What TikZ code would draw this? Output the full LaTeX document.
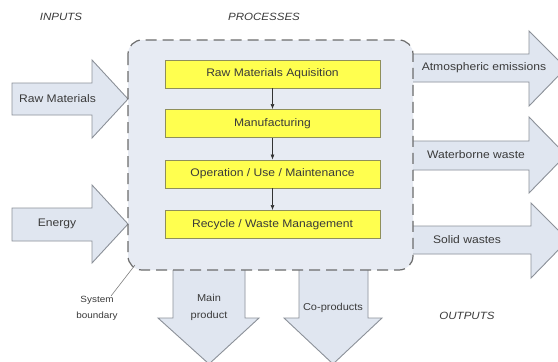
\documentclass[tikz,border=0pt]{standalone}
\usepackage{fontspec}
\setmainfont{Liberation Sans}[FakeStretch=1.1]
\usetikzlibrary{arrows.meta}
\definecolor{bfill}{HTML}{E7EBF3}
\definecolor{afill}{HTML}{E0E6F0}
\definecolor{aline}{HTML}{8C9199}
\definecolor{yfill}{HTML}{FFFF4F}
\definecolor{yline}{HTML}{8F8F5A}
\definecolor{txt}{HTML}{3A3A3A}
\tikzset{
  blockarrow/.style={fill=afill, draw=aline, line width=0.9pt, line join=miter},
  procbox/.style={draw=yline, fill=yfill, line width=0.9pt, minimum width=215, minimum height=28, inner sep=0pt, font=\fontsize{11}{12}\selectfont, text=txt},
  lbl/.style={font=\fontsize{11}{12}\selectfont, text=txt, inner sep=0pt},
  hdr/.style={font=\fontsize{10.5}{12}\selectfont\itshape, text=txt, inner sep=0pt},
  small/.style={font=\fontsize{9}{16}\selectfont, text=txt, inner sep=0pt, align=center},
  flow/.style={draw=black!80, line width=0.6pt, -{Latex[length=5pt,width=4pt]}},
}
\begin{document}
\begin{tikzpicture}[x=1pt,y=-1pt]
\useasboundingbox (0,0) rectangle (558,362);
\clip (0,0) rectangle (558,362);
\fill[white] (0,0) rectangle (558,362);
% boundary fill
\fill[bfill, rounded corners=14] (128,40) rectangle (413,270);
% input arrows
\draw[blockarrow] (12,83) -- (92,83) -- (92,60) -- (128,99) -- (92,138) -- (92,115) -- (12,115) -- cycle;
\draw[blockarrow] (12,208) -- (92,208) -- (92,185) -- (128,224) -- (92,263) -- (92,241) -- (12,241) -- cycle;
% output arrows (right)
\fill[afill] (413,54) -- (529,54) -- (529,31) -- (566,68) -- (529,106) -- (529,82) -- (413,82) -- cycle;
\draw[blockarrow] (413,54) -- (529,54) -- (529,31) -- (566,68) -- (529,106) -- (529,82) -- (413,82);
\fill[afill] (413,141) -- (529,141) -- (529,117) -- (566,155) -- (529,193) -- (529,170) -- (413,170) -- cycle;
\draw[blockarrow] (413,141) -- (529,141) -- (529,117) -- (566,155) -- (529,193) -- (529,170) -- (413,170);
\fill[afill] (413,226) -- (531,226) -- (531,203) -- (568,240) -- (531,278) -- (531,254) -- (413,254) -- cycle;
\draw[blockarrow] (413,226) -- (531,226) -- (531,203) -- (568,240) -- (531,278) -- (531,254) -- (413,254);
% output arrows (down)
\fill[afill] (173,270) -- (173,318) -- (158,318) -- (209,364) -- (259,318) -- (245,318) -- (245,270) -- cycle;
\draw[blockarrow] (173,270) -- (173,318) -- (158,318) -- (209,364) -- (259,318) -- (245,318) -- (245,270);
\fill[afill] (299,270) -- (299,318) -- (284,318) -- (333,364) -- (382,318) -- (368,318) -- (368,270) -- cycle;
\draw[blockarrow] (299,270) -- (299,318) -- (284,318) -- (333,364) -- (382,318) -- (368,318) -- (368,270);
% boundary line
\draw[draw=gray!85!black, line width=1.2pt, dash pattern=on 11pt off 6pt, rounded corners=14] (128,40) rectangle (413,270);
% process boxes
\node[procbox] (b1) at (272.5,74) {Raw Materials Aquisition};
\node[procbox] (b2) at (272.5,123.5) {Manufacturing};
\node[procbox] (b3) at (272.5,174) {Operation / Use / Maintenance};
\node[procbox] (b4) at (272.5,224.5) {Recycle / Waste Management};
\draw[flow] (b1) -- (b2);
\draw[flow] (b2) -- (b3);
\draw[flow] (b3) -- (b4);
% labels
\node[hdr] (hin) at (61,17) {INPUTS};
\node[hdr] (hpr) at (264,17) {PROCESSES};
\node[hdr] (hout) at (467,316) {OUTPUTS};
\node[lbl] (lraw) at (57.5,99) {Raw Materials};
\node[lbl] (lene) at (57,224) {Energy};
\node[lbl] (latm) at (484,68) {Atmospheric emissions};
\node[lbl] (lwat) at (476,155) {Waterborne waste};
\node[lbl] (lsol) at (467,240) {Solid wastes};
\node[lbl, align=center, font=\fontsize{10}{17}\selectfont] (lmain) at (209,307) {Main\\product};
\node[lbl, font=\fontsize{10}{12}\selectfont] (lco) at (333,308) {Co-products};
\node[small] (lsys) at (97,308) {System\\boundary};
\coordinate (corner) at (135,265);
\draw[gray, line width=0.6pt] (111,296) -- (corner);
\end{tikzpicture}
\end{document}
